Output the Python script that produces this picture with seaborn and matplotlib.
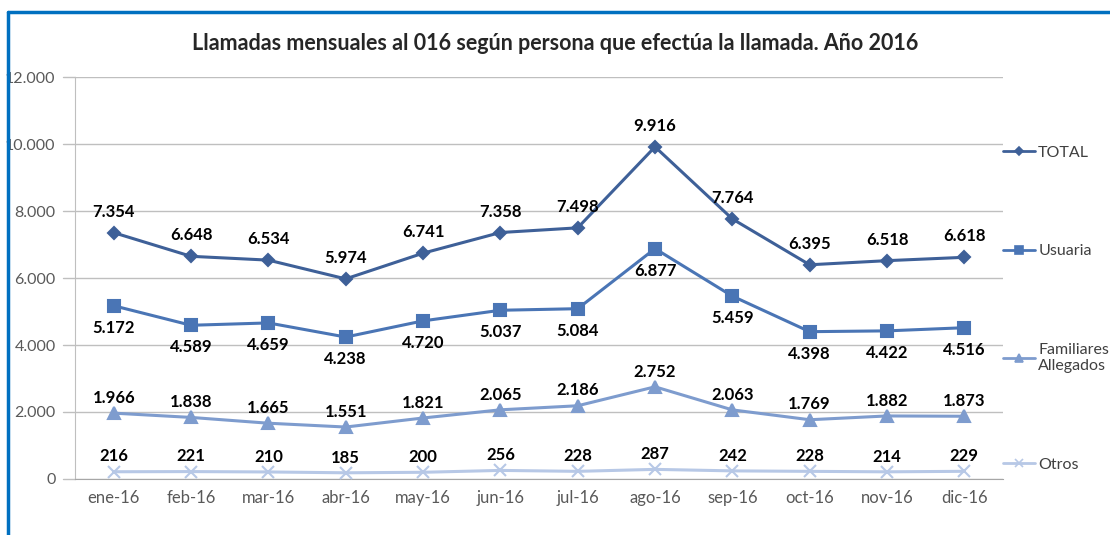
import numpy as np
import pandas as pd
from matplotlib import pyplot as plt
from matplotlib.lines import Line2D
from matplotlib.ticker import FuncFormatter, FixedLocator
import seaborn as sns

months = ['ene-16', 'feb-16', 'mar-16', 'abr-16', 'may-16', 'jun-16',
          'jul-16', 'ago-16', 'sep-16', 'oct-16', 'nov-16', 'dic-16']
total = [7354, 6648, 6534, 5974, 6741, 7358, 7498, 9916, 7764, 6395, 6518, 6618]
usuaria = [5172, 4589, 4659, 4238, 4720, 5037, 5084, 6877, 5459, 4398, 4422, 4516]
familiares = [1966, 1838, 1665, 1551, 1821, 2065, 2186, 2752, 2063, 1769, 1882, 1873]
otros = [216, 221, 210, 185, 200, 256, 228, 287, 242, 228, 214, 229]

series_names = ['TOTAL', 'Usuaria', 'Familiares\nAllegados', 'Otros']
series_values = [total, usuaria, familiares, otros]
colors = ['#3E6098', '#4A75B5', '#7E9CCE', '#B7C8E6']
markers = ['D', 's', '^', 'x']
marker_sizes = [6, 8, 9, 9]
label_offsets = [15, -16, 11, 11]   # points above (+) / below (-)


def fmt_es(v, pos=None):
    return f"{int(v):,}".replace(',', '.')


sns.set_style('white')
plt.rcParams['font.family'] = ['Lato', 'DejaVu Sans']

fig = plt.figure(figsize=(11.1, 5.35), dpi=100)
ax = fig.add_axes([0.0676, 0.1047, 0.836, 0.7513])

for name, vals, c, m, ms in zip(series_names, series_values, colors, markers, marker_sizes):
    d = pd.DataFrame({'pos': range(len(months)), 'valor': vals})
    sns.lineplot(data=d, x='pos', y='valor', color=c, marker=m, markersize=ms,
                 markeredgecolor=c, markeredgewidth=1.5, linewidth=2.2,
                 ax=ax, zorder=3)

# data labels
for vals, off in zip(series_values, label_offsets):
    for i, v in enumerate(vals):
        ax.annotate(fmt_es(v), (i, v), xytext=(0, off), textcoords='offset points',
                    ha='center', va='center', fontsize=12, fontweight='bold',
                    color='black', zorder=4)

ax.set_xlim(-0.5, 11.5)
ax.set_ylim(0, 12000)
ax.set_yticks(np.arange(0, 12001, 2000))
ax.yaxis.set_major_formatter(FuncFormatter(fmt_es))
ax.set_xticks(range(12))
ax.set_xticklabels(months)
ax.xaxis.set_minor_locator(FixedLocator(np.arange(-0.5, 12, 1)))
ax.tick_params(axis='x', which='major', length=0, pad=8, labelsize=12, labelcolor='#595959')
ax.tick_params(axis='x', which='minor', length=6, color='#BFBFBF', width=1)
ax.tick_params(axis='y', length=0, pad=14, labelsize=11.5, labelcolor='#595959')
ax.set_xlabel('')
ax.set_ylabel('')

ax.grid(axis='y', color='#BFBFBF', linewidth=1)
for s in ['top', 'right']:
    ax.spines[s].set_visible(False)
ax.spines['left'].set_color('#BFBFBF')
ax.spines['bottom'].set_color('#A6A6A6')

# extend gridlines slightly left of the axis (tick stubs)
for y in np.arange(0, 12001, 2000):
    ax.plot([-0.66, -0.5], [y, y], color='#BFBFBF', lw=1, clip_on=False)

fig.text(0.5, 0.918, 'Llamadas mensuales al 016 según persona que efectúa la llamada. Año 2016',
         ha='center', va='center', fontsize=15.5, fontweight='bold')

handles = [Line2D([0], [0], color=c, marker=m, markersize=ms * 0.7, lw=2,
                  markeredgecolor=c, markeredgewidth=1.2)
           for c, m, ms in zip(colors, markers, marker_sizes)]
leg = ax.legend(handles, series_names, loc='upper left', bbox_to_anchor=(1.0, 0.83),
                frameon=False, fontsize=11.5, labelspacing=5.3, handlelength=2.0,
                handletextpad=0.2, borderaxespad=0, borderpad=0, labelcolor='#404040')
for t in leg.get_texts():
    t.set_multialignment('left')

# blue frame (partially visible border)
fig.add_artist(Line2D([8 / 1110, 8 / 1110], [0, 1 - 12 / 535], color='#0070C0', lw=2.5))
fig.add_artist(Line2D([8 / 1110, 1], [1 - 12 / 535, 1 - 12 / 535], color='#0070C0', lw=2.5))

fig.savefig('out.png', dpi=100)
